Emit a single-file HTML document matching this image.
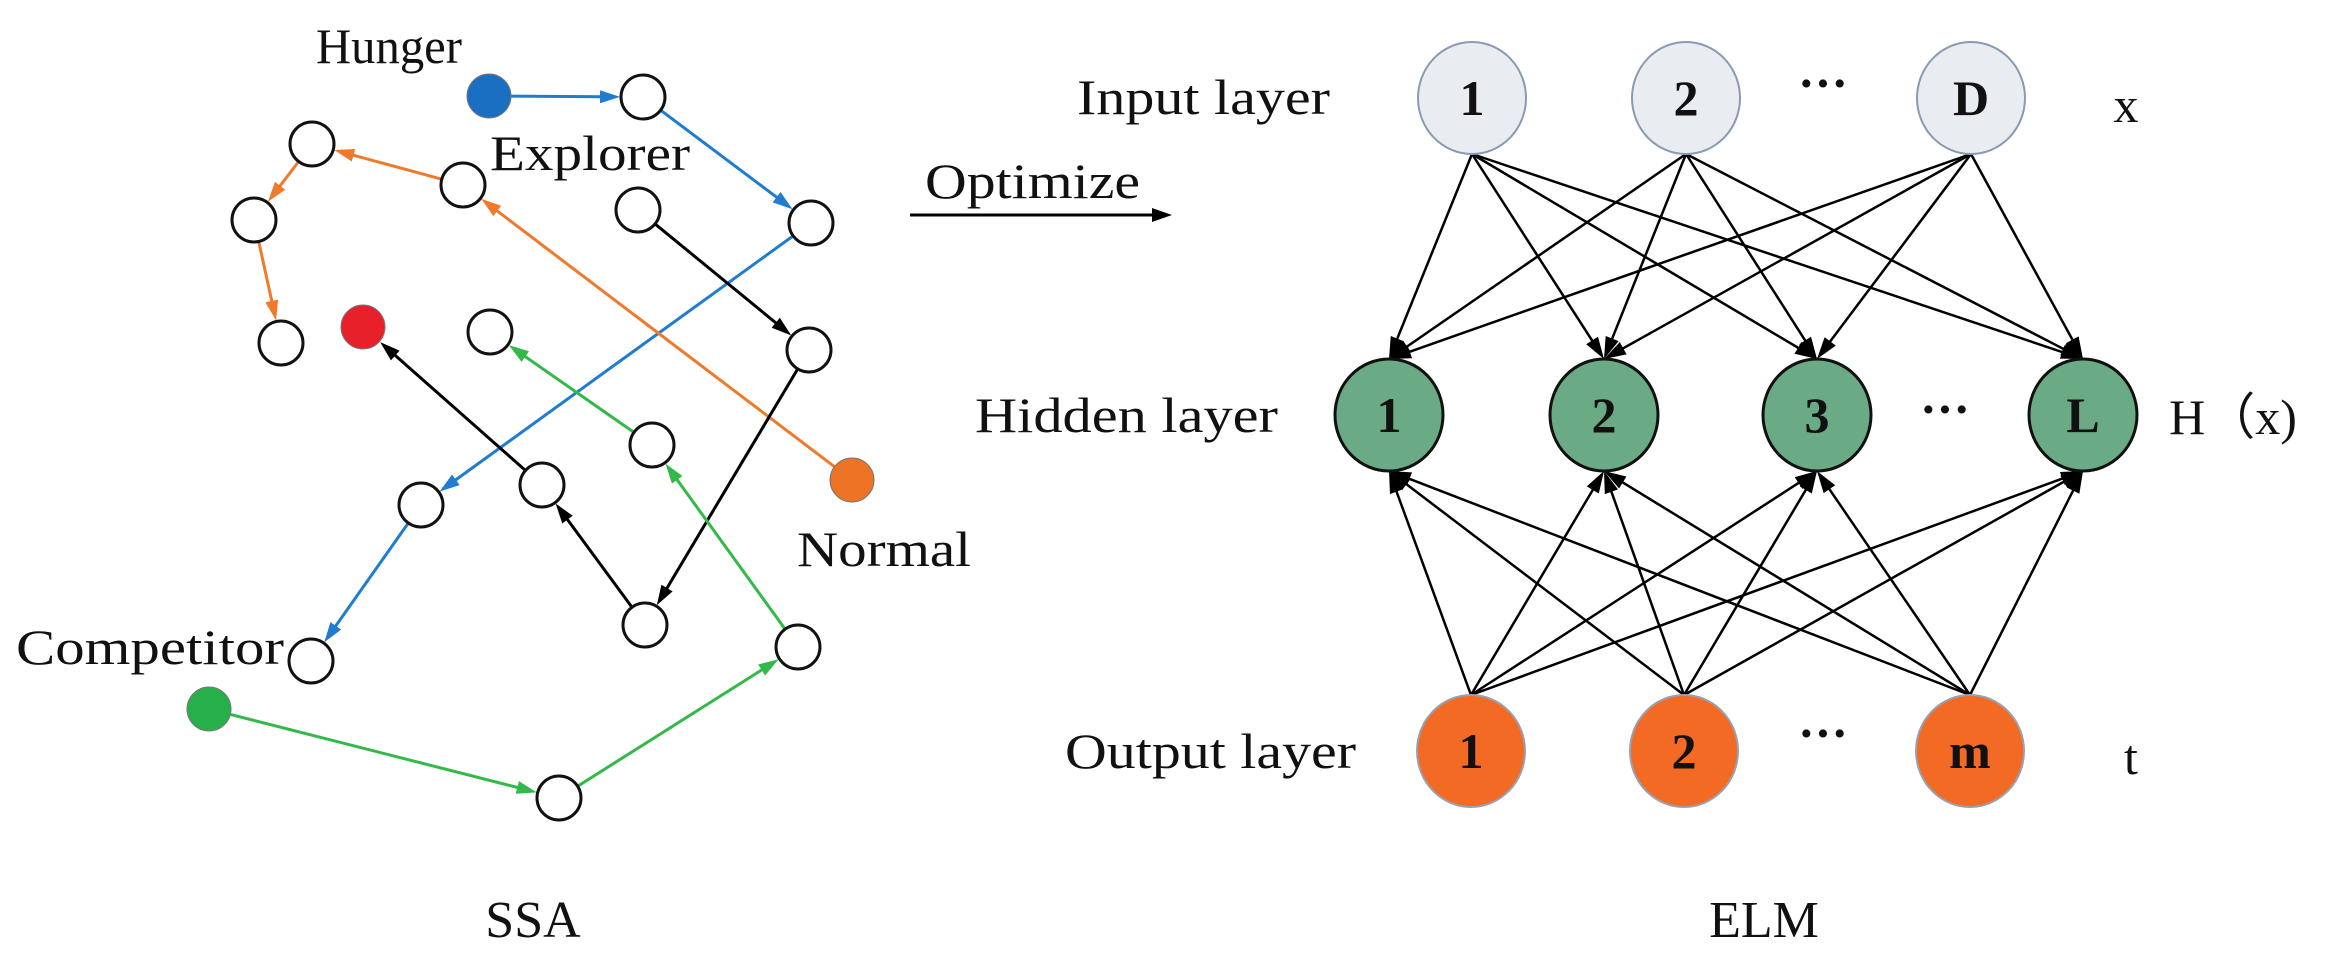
<!DOCTYPE html>
<html><head><meta charset="utf-8"><style>
html,body{margin:0;padding:0;background:#fff;}
svg{display:block;}
text{font-family:"Liberation Serif",serif;fill:#111;}
</style></head><body>
<svg id="s" width="2325" height="957" viewBox="0 0 2325 957" xmlns="http://www.w3.org/2000/svg">
<g id="edges"></g>
<g id="nodes"></g>
<g font-size="50">
<text x="316" y="63" textLength="146" lengthAdjust="spacingAndGlyphs">Hunger</text>
<text x="490" y="170" textLength="200" lengthAdjust="spacingAndGlyphs">Explorer</text>
<text x="797" y="566" textLength="174" lengthAdjust="spacingAndGlyphs">Normal</text>
<text x="16" y="664" textLength="268" lengthAdjust="spacingAndGlyphs">Competitor</text>
<text x="533" y="937" text-anchor="middle" font-size="52">SSA</text>
<text x="1764" y="937" text-anchor="middle" font-size="52">ELM</text>
<text x="925" y="198" textLength="215" lengthAdjust="spacingAndGlyphs">Optimize</text>
<text x="1077" y="114" textLength="253" lengthAdjust="spacingAndGlyphs">Input layer</text>
<text x="975" y="432" textLength="303" lengthAdjust="spacingAndGlyphs">Hidden layer</text>
<text x="1065" y="768" textLength="291" lengthAdjust="spacingAndGlyphs">Output layer</text>
<text x="2126" y="122" text-anchor="middle">x</text>
<text x="2131" y="774" text-anchor="middle">t</text>
<text x="2233" y="434" text-anchor="middle">H（x)</text>
<text x="1823" y="100" text-anchor="middle" font-weight="bold">···</text>
<text x="1945" y="426" text-anchor="middle" font-weight="bold">···</text>
<text x="1823" y="750" text-anchor="middle" font-weight="bold">···</text>
</g>
<line x1="910" y1="215" x2="1155" y2="215" stroke="#000" stroke-width="3"/>
<polygon points="1172,215 1152,208 1152,222" fill="#000"/>
</svg>
<script>
var NS="http://www.w3.org/2000/svg";
var E=document.getElementById("edges"),N=document.getElementById("nodes");
function el(t,a,p){var e=document.createElementNS(NS,t);for(var k in a)e.setAttribute(k,a[k]);(p||N).appendChild(e);return e;}
function arrow(x1,y1,r1,x2,y2,r2,c,w,al,aw){
 var dx=x2-x1,dy=y2-y1,L=Math.hypot(dx,dy),ux=dx/L,uy=dy/L;
 var sx=x1+ux*r1,sy=y1+uy*r1,ex=x2-ux*r2,ey=y2-uy*r2;
 el("line",{x1:sx,y1:sy,x2:ex-ux*al*0.8,y2:ey-uy*al*0.8,stroke:c,"stroke-width":w},E);
 var bx=ex-ux*al,by=ey-uy*al,px=-uy*aw/2,py=ux*aw/2;
 el("polygon",{points:ex+","+ey+" "+(bx+px)+","+(by+py)+" "+(bx-px)+","+(by-py),fill:c},E);
}
var P={H:[489,96,"#1b6fc2"],W1:[643,97],W2:[312,144],W3:[463,185],W4:[254,220],W5:[638,210],W6:[811,223],W7:[281,343],R:[363,327,"#e8202a"],W8:[490,332],W9:[809,350],W10:[652,445],O:[852,480,"#ec7424"],W11:[542,485],W12:[421,505],W13:[645,625],W14:[798,647],W15:[311,661],G:[209,709,"#27b04a"],W16:[559,798]};
var r=22;
var ed=[["H","W1","#1f7ccf"],["W1","W6","#1f7ccf"],["W6","W12","#1f7ccf"],["W12","W15","#1f7ccf"],
["O","W3","#f07a2c"],["W3","W2","#f07a2c"],["W2","W4","#f07a2c"],["W4","W7","#f07a2c"],
["W5","W9","#000"],["W9","W13","#000"],["W13","W11","#000"],["W11","R","#000"],
["G","W16","#33b84a"],["W16","W14","#33b84a"],["W14","W10","#33b84a"],["W10","W8","#33b84a"]];
ed.forEach(function(e){var a=P[e[0]],b=P[e[1]];arrow(a[0],a[1],r,b[0],b[1],r+1,e[2],3,20,13);});
for(var k in P){var p=P[k];if(p[2])el("ellipse",{cx:p[0],cy:p[1],rx:r,ry:r,fill:p[2],stroke:"#777","stroke-width":1});else el("ellipse",{cx:p[0],cy:p[1],rx:r,ry:r,fill:"#fff",stroke:"#111","stroke-width":3});}
var I=[[1472,98,"1"],[1686,98,"2"],[1971,98,"D"]];
var Hd=[[1389,415,"1"],[1604,415,"2"],[1817,415,"3"],[2083,415,"L"]];
var O=[[1471,751,"1"],[1684,751,"2"],[1970,751,"m"]];
var rx=54,ry=56;
I.forEach(function(a){Hd.forEach(function(b){arrow(a[0],a[1]+ry,0,b[0],b[1]-ry,0,"#000",2.5,22,14);});});
O.forEach(function(a){Hd.forEach(function(b){arrow(a[0],a[1]-ry,0,b[0],b[1]+ry,0,"#000",2.5,22,14);});});
function layer(L,fill,stroke,sw){L.forEach(function(a){el("ellipse",{cx:a[0],cy:a[1],rx:rx,ry:ry,fill:fill,stroke:stroke,"stroke-width":sw});var t=el("text",{x:a[0],y:a[1]+17,"text-anchor":"middle","font-size":50,"font-weight":"bold"});t.textContent=a[2];});}
layer(I,"#e9edf1","#8a9ab0",2);
layer(Hd,"#6aaa85","#111",3);
layer(O,"#f26a24","#9aa0b0",2);
</script>
</body></html>
